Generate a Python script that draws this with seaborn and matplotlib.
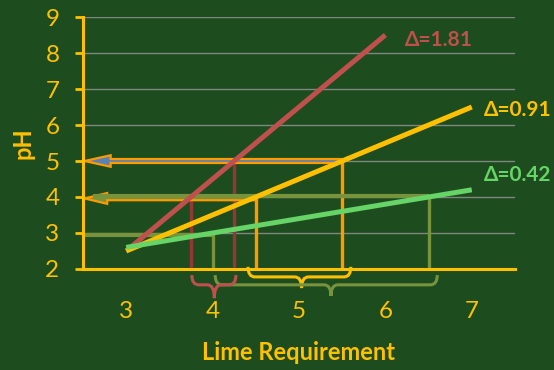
import numpy as np
import pandas as pd
import matplotlib
matplotlib.use("Agg")
import matplotlib.pyplot as plt
from matplotlib.path import Path
from matplotlib.patches import PathPatch, FancyArrow
import seaborn as sns

# Soil pH response to lime for three soils
red_lime = [3.0, 6.0]
red_ph = [2.5, 8.5]
yellow_lime = [3.0, 7.0]
yellow_ph = [2.5, 6.5]
green_lime = [3.0, 7.0]
green_ph = [2.6, 4.2]

series_names = ["red", "yellow", "green"]
delta_labels = ["Δ=1.81", "Δ=0.91", "Δ=0.42"]

# pH levels read back onto each line
red_targets = [4.0, 5.0]
yellow_targets = [4.0, 5.0]
green_targets = [3.0, 4.0]

x_ticks = [3, 4, 5, 6, 7]
y_ticks = [2, 3, 4, 5, 6, 7, 8, 9]

BG = "#1d4c1f"
YELLOW = "#ffc000"
RED = "#c0504d"
DARKRED = "#953735"
GREEN = "#66d466"
OLIVE = "#77933c"
ORANGE = "#ff9a00"
BLUE = "#5b82b5"
GRID = "#7f877f"

sns.set_style("white", {"axes.facecolor": BG, "figure.facecolor": BG})
plt.rcParams["font.family"] = ["Lato", "DejaVu Sans"]

df = pd.concat([
    pd.DataFrame({"lime": red_lime, "ph": red_ph, "series": "red"}),
    pd.DataFrame({"lime": yellow_lime, "ph": yellow_ph, "series": "yellow"}),
    pd.DataFrame({"lime": green_lime, "ph": green_ph, "series": "green"}),
], ignore_index=True)

fig = plt.figure(figsize=(5.54, 3.70), dpi=100, facecolor=BG)
ax = fig.add_axes([0.1498, 0.273, 0.7798, 0.681])
ax.set_facecolor(BG)
ax.set_xlim(2.5, 7.5)
ax.set_ylim(2, 9)

# horizontal gridlines
for y in y_ticks[1:]:
    ax.axhline(y, color=GRID, lw=1.0, zorder=0.5)

sns.lineplot(data=df, x="lime", y="ph", hue="series", hue_order=series_names,
             palette={"red": RED, "yellow": YELLOW, "green": GREEN},
             lw=3.6, legend=False, ax=ax, zorder=4, solid_capstyle="butt")


def read_x(xs, ys, level):
    return float(np.interp(level, ys, xs))


r4, r5 = (read_x(red_lime, red_ph, v) for v in red_targets)
y4, y5 = (read_x(yellow_lime, yellow_ph, v) for v in yellow_targets)
g3, g4 = (read_x(green_lime, green_ph, v) for v in green_targets)

# drop lines to the lime axis
vkw = dict(lw=2.4, zorder=2.5, solid_capstyle="butt")
ax.plot([r4, r4], [2, red_targets[0]], color=DARKRED, **vkw)
ax.plot([r5, r5], [2, red_targets[1]], color=DARKRED, **vkw)
ax.plot([y4, y4], [2, yellow_targets[0]], color=ORANGE, **vkw)
ax.plot([y5, y5], [2, yellow_targets[1]], color=ORANGE, **vkw)
ax.plot([g3, g3], [2, green_targets[0]], color=OLIVE, **vkw)
ax.plot([g4, g4], [2, green_targets[1]], color=OLIVE, **vkw)

# read-back arrows to the pH axis
x0 = 2.52
ax.add_patch(FancyArrow(y5, yellow_targets[1], x0 - y5, 0, width=0.11,
                        head_width=0.32, head_length=0.3,
                        length_includes_head=True, fc=BLUE, ec=ORANGE,
                        lw=1.6, zorder=3))
ax.add_patch(FancyArrow(y4, yellow_targets[0] - 0.04, x0 - y4, 0, width=0.1,
                        head_width=0.3, head_length=0.26,
                        length_includes_head=True, fc=OLIVE, ec=ORANGE,
                        lw=1.6, zorder=3))
ax.plot([2.62, g4], [green_targets[1] + 0.02] * 2, color=OLIVE, lw=3.0,
        zorder=3.2, solid_capstyle="butt")
ax.plot([2.52, g3], [green_targets[0] - 0.05] * 2, color=OLIVE, lw=3.0,
        zorder=3.2, solid_capstyle="butt")


def brace(xa, xb, xc, ytop, ymid, ytip, color, rx=0.08):
    verts = [(xa, ytop), (xa, ymid), (xa + rx, ymid),
             (xc - rx, ymid), (xc, ymid), (xc, ytip),
             (xc, ymid), (xc + rx, ymid),
             (xb - rx, ymid), (xb, ymid), (xb, ytop)]
    codes = [Path.MOVETO, Path.CURVE3, Path.CURVE3,
             Path.LINETO, Path.CURVE3, Path.CURVE3,
             Path.CURVE3, Path.CURVE3,
             Path.LINETO, Path.CURVE3, Path.CURVE3]
    ax.add_patch(PathPatch(Path(verts, codes), fc="none", ec=color, lw=2.2,
                           clip_on=False, zorder=3, capstyle="butt"))


brace(y4 - 0.09, y5 + 0.1, (y4 + y5) / 2 + 0.03, 2.06, 1.78, 1.47, YELLOW)
brace(g3 + 0.03, g4 + 0.1, 5.37, 1.83, 1.56, 1.25, OLIVE)
brace(r4 + 0.01, r5 + 0.02, (r4 + r5) / 2 + 0.02, 1.83, 1.56, 1.19, RED)

# delta labels at the line ends
tkw = dict(fontsize=15, fontweight="bold", va="center", ha="left")
ax.text(6.22, 8.36, delta_labels[0], color=RED, **tkw)
ax.text(7.14, 6.42, delta_labels[1], color=YELLOW, **tkw)
ax.text(7.14, 4.61, delta_labels[2], color=GREEN, **tkw)

# axes styling
for side in ["top", "right"]:
    ax.spines[side].set_visible(False)
for side in ["left", "bottom"]:
    ax.spines[side].set_color(YELLOW)
    ax.spines[side].set_linewidth(2.2)
    ax.spines[side].set_zorder(5)

ax.set_xticks(x_ticks)
ax.set_yticks(y_ticks)
ax.tick_params(axis="y", direction="out", length=6, width=2, color=YELLOW,
               labelcolor=YELLOW, labelsize=17.5, pad=11, left=True)
ax.tick_params(axis="x", length=0, labelcolor=YELLOW, labelsize=17.5, pad=23)
ax.set_xlabel("Lime Requirement", color=YELLOW, fontsize=17, fontweight="bold")
ax.set_ylabel("pH", color=YELLOW, fontsize=17, fontweight="bold")
ax.xaxis.set_label_coords(0.5, -0.285)
ax.yaxis.set_label_coords(-0.112, 0.5)

fig.savefig("out.png", dpi=100, facecolor=BG)
